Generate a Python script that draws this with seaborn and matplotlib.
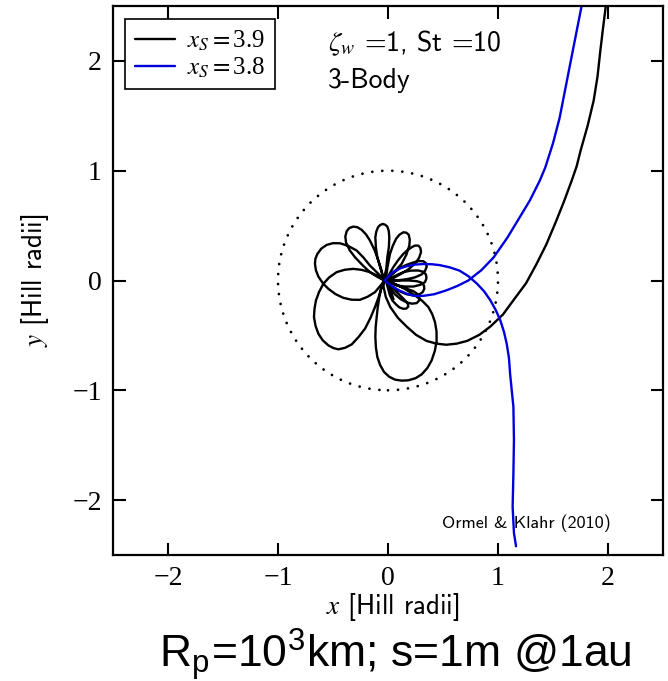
import matplotlib
matplotlib.use("Agg")
import matplotlib.pyplot as plt
import seaborn as sns
import pandas as pd
from matplotlib.lines import Line2D

# ---------------- data (Hill radii) ----------------
labels = [r"$x_S=$3.9", r"$x_S=$3.8"]
hill_radius = 1.0
tick_vals = [-2, -1, 0, 1, 2]

# black trajectory (x_S = 3.9): incoming arm
black_in = [(1.98, 2.50), (1.955, 2.30), (1.93, 2.09), (1.905, 1.86), (1.87, 1.64),
            (1.815, 1.41), (1.75, 1.18), (1.715, 1.04), (1.67, 0.91), (1.60, 0.72),
            (1.52, 0.52), (1.44, 0.33), (1.35, 0.15), (1.255, -0.025), (1.14, -0.18),
            (1.045, -0.31), (0.93, -0.42), (0.83, -0.495), (0.72, -0.55), (0.625, -0.575),
            (0.53, -0.585), (0.44, -0.575), (0.35, -0.55), (0.255, -0.495), (0.17, -0.42),
            (0.09, -0.34), (0.02, -0.24), (-0.02, -0.15), (-0.04, -0.06), (-0.04, 0.0)]
# successive loops (petals) around the planet
petal_M = [(-0.062, -0.075), (-0.079, -0.152), (-0.093, -0.243), (-0.103, -0.333),
           (-0.112, -0.424), (-0.115, -0.515), (-0.110, -0.608), (-0.097, -0.697),
           (-0.071, -0.771), (-0.036, -0.833), (0.010, -0.876), (0.064, -0.903),
           (0.124, -0.912), (0.185, -0.909), (0.250, -0.890), (0.306, -0.855),
           (0.358, -0.797), (0.397, -0.727), (0.426, -0.640), (0.442, -0.552),
           (0.441, -0.463), (0.427, -0.379), (0.402, -0.306), (0.367, -0.242),
           (0.310, -0.184), (0.245, -0.136), (0.170, -0.087), (0.094, -0.045),
           (0.030, -0.018), (-0.03, 0.0)]
petal_B = [(-0.10, 0.045), (-0.164, 0.076), (-0.24, 0.097), (-0.315, 0.106),
           (-0.393, 0.098), (-0.467, 0.076), (-0.535, 0.028), (-0.588, -0.030),
           (-0.627, -0.105), (-0.655, -0.182), (-0.668, -0.257), (-0.673, -0.333),
           (-0.659, -0.412), (-0.633, -0.485), (-0.593, -0.545), (-0.542, -0.591),
           (-0.497, -0.615), (-0.452, -0.627), (-0.390, -0.613), (-0.330, -0.582),
           (-0.268, -0.515), (-0.209, -0.439), (-0.160, -0.342), (-0.118, -0.242),
           (-0.085, -0.150), (-0.058, -0.061), (-0.03, 0.0)]
petal_A = [(-0.095, 0.068), (-0.164, 0.136), (-0.222, 0.208), (-0.285, 0.273),
           (-0.362, 0.315), (-0.436, 0.339), (-0.500, 0.340), (-0.558, 0.324),
           (-0.607, 0.290), (-0.642, 0.242), (-0.660, 0.198), (-0.664, 0.152),
           (-0.655, 0.092), (-0.633, 0.036), (-0.592, -0.025), (-0.542, -0.076),
           (-0.477, -0.124), (-0.406, -0.158), (-0.330, -0.175), (-0.255, -0.176),
           (-0.185, -0.148), (-0.118, -0.106), (-0.075, -0.055), (-0.042, -0.015)]
petal_C = [(-0.060, 0.095), (-0.088, 0.182), (-0.122, 0.277), (-0.164, 0.364),
           (-0.200, 0.420), (-0.239, 0.461), (-0.278, 0.485), (-0.315, 0.491),
           (-0.352, 0.478), (-0.376, 0.448), (-0.388, 0.400), (-0.382, 0.348),
           (-0.348, 0.275), (-0.300, 0.212), (-0.232, 0.140), (-0.164, 0.076),
           (-0.10, 0.035), (-0.04, 0.005)]
petal_D = [(-0.016, 0.105), (-0.006, 0.212), (0.008, 0.305), (0.012, 0.394),
           (0.007, 0.450), (-0.006, 0.491), (-0.026, 0.508), (-0.048, 0.515),
           (-0.072, 0.505), (-0.091, 0.485), (-0.107, 0.443), (-0.115, 0.394),
           (-0.110, 0.300), (-0.097, 0.212), (-0.068, 0.110), (-0.036, 0.015)]
petal_E = [(0.05, 0.07), (0.124, 0.152), (0.166, 0.233), (0.194, 0.318),
           (0.198, 0.372), (0.188, 0.418), (0.165, 0.436), (0.139, 0.439),
           (0.103, 0.416), (0.073, 0.379), (0.042, 0.312), (0.018, 0.242),
           (-0.005, 0.12), (-0.02, 0.01)]
petal_F = [(0.045, 0.02), (0.109, 0.055), (0.180, 0.098), (0.245, 0.152),
           (0.282, 0.205), (0.300, 0.258), (0.295, 0.295), (0.276, 0.318),
           (0.245, 0.318), (0.215, 0.303), (0.176, 0.275), (0.139, 0.242),
           (0.092, 0.185), (0.048, 0.121), (0.012, 0.058), (-0.02, 0.0)]
petal_G = [(0.075, 0.0), (0.170, 0.012), (0.243, 0.028), (0.306, 0.055),
           (0.337, 0.088), (0.352, 0.127), (0.345, 0.158), (0.321, 0.176),
           (0.277, 0.177), (0.230, 0.164), (0.170, 0.143), (0.109, 0.115),
           (0.04, 0.06), (-0.02, 0.0)]
petal_H = [(0.028, -0.025), (0.079, -0.045), (0.155, -0.055), (0.230, -0.055),
           (0.292, -0.040), (0.336, -0.015), (0.350, 0.020), (0.345, 0.055),
           (0.318, 0.080), (0.276, 0.091), (0.207, 0.090), (0.139, 0.076),
           (0.06, 0.04), (-0.02, 0.0)]
petal_I = [(0.04, -0.055), (0.109, -0.100), (0.168, -0.125), (0.230, -0.136),
           (0.280, -0.130), (0.315, -0.106), (0.330, -0.075), (0.327, -0.045),
           (0.302, -0.018), (0.261, -0.006), (0.19, 0.0), (0.124, 0.0),
           (0.05, 0.0), (-0.02, 0.0)]
petal_J = [(0.02, -0.065), (0.064, -0.127), (0.115, -0.170), (0.170, -0.200),
           (0.218, -0.211), (0.261, -0.206), (0.282, -0.183), (0.285, -0.152),
           (0.265, -0.120), (0.230, -0.097), (0.170, -0.075), (0.109, -0.055),
           (0.045, -0.025), (-0.02, 0.0)]
petal_K = [(0.0, -0.07), (0.018, -0.136), (0.040, -0.182), (0.073, -0.218),
           (0.104, -0.245), (0.139, -0.258), (0.168, -0.255), (0.185, -0.236),
           (0.178, -0.205), (0.155, -0.182), (0.118, -0.143), (0.079, -0.106),
           (0.035, -0.05), (0.0, 0.0), (0.02, -0.08), (0.05, -0.17)]

# blue trajectory (x_S = 3.8)
blue_path = [(1.76, 2.50), (1.705, 2.22), (1.65, 1.94), (1.605, 1.71), (1.56, 1.48),
             (1.50, 1.25), (1.43, 1.03), (1.38, 0.91), (1.29, 0.73), (1.20, 0.58),
             (1.085, 0.39), (0.96, 0.21), (0.85, 0.095), (0.73, 0.0), (0.63, -0.05),
             (0.53, -0.09), (0.42, -0.125), (0.32, -0.14), (0.24, -0.14), (0.17, -0.12),
             (0.10, -0.09), (0.05, -0.06), (0.0, -0.025), (-0.03, 0.0), (0.0, 0.035),
             (0.05, 0.08), (0.11, 0.11), (0.17, 0.13), (0.245, 0.145), (0.32, 0.15),
             (0.40, 0.148), (0.47, 0.14), (0.56, 0.12), (0.65, 0.09), (0.73, 0.04),
             (0.81, -0.03), (0.875, -0.10), (0.93, -0.18), (0.98, -0.27), (1.02, -0.36),
             (1.055, -0.47), (1.08, -0.58), (1.10, -0.71), (1.11, -0.85), (1.125, -1.0),
             (1.14, -1.15), (1.145, -1.45), (1.14, -1.76), (1.133, -2.06), (1.145, -2.30),
             (1.164, -2.42)]

black_path = (black_in + petal_M + petal_B + petal_A + petal_C + petal_D + petal_E
              + petal_F + petal_G + petal_H + petal_I + petal_J + petal_K)

df_black = pd.DataFrame(black_path, columns=["x", "y"])
df_blue = pd.DataFrame(blue_path, columns=["x", "y"])

# ---------------- drawing ----------------
sns.set_theme(style="ticks")
plt.rcParams.update({
    "mathtext.fontset": "stix",
    "font.family": ["Liberation Serif", "DejaVu Serif"],
    "axes.unicode_minus": True,
    "text.color": "black",
    "axes.labelcolor": "black",
    "xtick.color": "black",
    "ytick.color": "black",
})

fig = plt.figure(figsize=(6.68, 6.81), dpi=100)
ax = fig.add_axes([113 / 668, 1 - 555 / 681, 550 / 668, 549 / 681])

sns.lineplot(data=df_black, x="x", y="y", sort=False, estimator=None,
             color="black", lw=1.7, ax=ax)
sns.lineplot(data=df_blue, x="x", y="y", sort=False, estimator=None,
             color="#0000dd", lw=1.7, ax=ax)

circ = plt.Circle((0, 0), hill_radius, fill=False, color="black",
                  lw=2.0, ls=(0, (0.01, 3.6)), capstyle="round")
ax.add_patch(circ)

ax.set_xlim(-2.5, 2.5)
ax.set_ylim(-2.5, 2.5)
ax.set_xticks(tick_vals)
ax.set_yticks(tick_vals)
ax.tick_params(direction="in", length=9, width=1.5, top=True, right=True,
               labelsize=20, pad=8, colors="black")
for s in ax.spines.values():
    s.set_linewidth(1.6)
    s.set_color("black")

ax.set_xlabel(r"$x$ [Hill radii]", family="cmss10", fontsize=19.5, color="black")
ax.set_ylabel(r"$y$ [Hill radii]", family="cmss10", fontsize=19.5, color="black")
ax.xaxis.set_label_coords(0.509, -0.066)
ax.yaxis.set_label_coords(-0.113, 0.5)

handles = [Line2D([], [], color="black", lw=1.7), Line2D([], [], color="#0000dd", lw=1.7)]
leg = ax.legend(handles, labels, loc="upper left", bbox_to_anchor=(0.022, 0.976),
                borderaxespad=0, prop={"family": "Liberation Serif", "size": 18},
                frameon=True, fancybox=False, framealpha=1, edgecolor="black",
                handlelength=1.6, handletextpad=0.5, labelspacing=0.1, borderpad=0.38)
leg.get_frame().set_linewidth(1.2)
for t in leg.get_texts():
    t.set_color("black")

ax.text(-0.55, 2.16, r"$\zeta_w$ =1, St =10", family="cmss10", fontsize=20,
        va="center", color="black")
ax.text(-0.55, 1.82, "3-Body", family="cmss10", fontsize=20, va="center", color="black")
ax.text(1.255, -2.21, "Ormel & Klahr (2010)", family="cmss10", fontsize=13,
        ha="center", va="center", color="black")

fig.text(0.591, 0.021, r"R$_\mathregular{p}$=10$^\mathregular{3}$km; s=1m @1au",
         family="Liberation Sans", fontsize=32, ha="center", va="baseline",
         color="black")

fig.savefig("out.png", dpi=100)
